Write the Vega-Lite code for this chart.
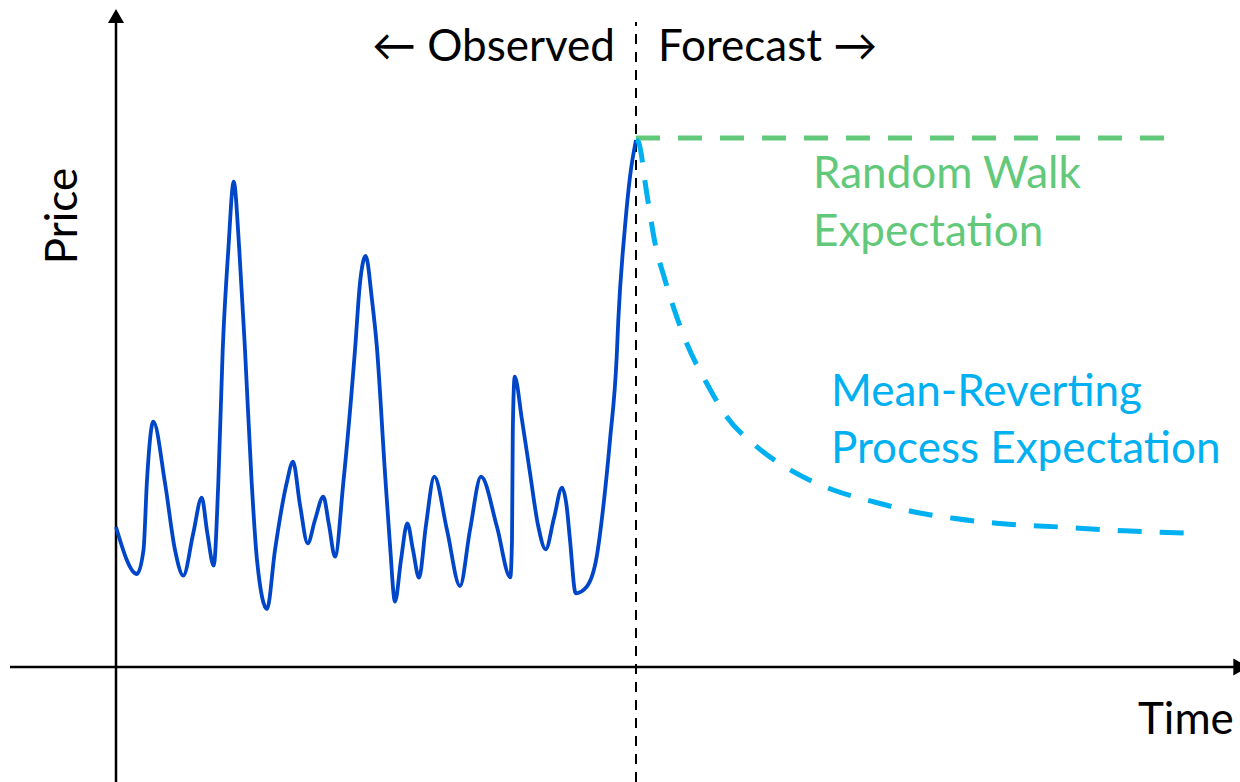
{
  "$schema": "https://vega.github.io/schema/vega-lite/v6.json",
  "width": 1240,
  "height": 782,
  "padding": 0,
  "autosize": {"type": "none"},
  "config": {"view": {"stroke": null}},
  "encoding": {
    "x": {"field": "t", "type": "quantitative", "scale": {"domain": [-116, 1124], "nice": false, "zero": false}, "axis": null},
    "y": {"field": "p", "type": "quantitative", "scale": {"domain": [-115, 667], "nice": false, "zero": false}, "axis": null}
  },
  "layer": [
    {
      "data": {"values": [{"t": 0, "p": -115, "p2": 647}]},
      "mark": {"type": "rule", "color": "black", "strokeWidth": 2.5},
      "encoding": {"y2": {"field": "p2"}}
    },
    {
      "data": {"values": [{"t": -106, "t2": 1119, "p": 0}]},
      "mark": {"type": "rule", "color": "black", "strokeWidth": 2.5},
      "encoding": {"x2": {"field": "t2"}}
    },
    {
      "data": {"values": [{"t": 520, "p": -115, "p2": 645}]},
      "mark": {"type": "rule", "color": "black", "strokeWidth": 2, "strokeDash": [10, 8]},
      "encoding": {"y2": {"field": "p2"}}
    },
    {
      "data": {"values": [{"t": 0, "p": 651}]},
      "mark": {"type": "point", "shape": "triangle-up", "size": 256, "filled": true, "color": "black", "opacity": 1}
    },
    {
      "data": {"values": [{"t": 1124.7, "p": 0}]},
      "mark": {"type": "point", "shape": "triangle-right", "size": 289, "filled": true, "color": "black", "opacity": 1}
    },
    {
      "data": {"values": [
        {"t": 0, "p": 140}, {"t": 21, "p": 93}, {"t": 27.5, "p": 117}, {"t": 31, "p": 187}, {"t": 37.3, "p": 245.3},
        {"t": 49, "p": 184}, {"t": 59, "p": 117}, {"t": 67.3, "p": 91.3}, {"t": 77.3, "p": 134}, {"t": 85.7, "p": 169.3},
        {"t": 91.3, "p": 134}, {"t": 97.7, "p": 101.3}, {"t": 102.3, "p": 184}, {"t": 106.7, "p": 317}, {"t": 112.3, "p": 417},
        {"t": 117.7, "p": 485.3}, {"t": 123.3, "p": 417}, {"t": 129, "p": 317}, {"t": 135.7, "p": 184}, {"t": 141, "p": 107},
        {"t": 151, "p": 58}, {"t": 159, "p": 117}, {"t": 170.7, "p": 184}, {"t": 177, "p": 205.3}, {"t": 184, "p": 162},
        {"t": 191.7, "p": 123.7}, {"t": 199, "p": 147}, {"t": 207.3, "p": 170.3}, {"t": 213, "p": 142}, {"t": 219, "p": 110.3},
        {"t": 227.3, "p": 184}, {"t": 239, "p": 317}, {"t": 244, "p": 384}, {"t": 249.7, "p": 411}, {"t": 256, "p": 367},
        {"t": 260.7, "p": 322}, {"t": 269, "p": 194}, {"t": 274, "p": 122}, {"t": 279, "p": 65.3}, {"t": 285, "p": 107},
        {"t": 291.3, "p": 143.7}, {"t": 297, "p": 117}, {"t": 303, "p": 89.3}, {"t": 310, "p": 142}, {"t": 318.3, "p": 190.3},
        {"t": 331, "p": 137}, {"t": 344, "p": 81}, {"t": 354, "p": 137}, {"t": 365, "p": 190.3}, {"t": 381, "p": 140},
        {"t": 394.3, "p": 89.7}, {"t": 396, "p": 127}, {"t": 396.8, "p": 237}, {"t": 398.7, "p": 290.3}, {"t": 406, "p": 247},
        {"t": 414, "p": 194}, {"t": 422, "p": 142}, {"t": 429.7, "p": 117.7}, {"t": 438, "p": 149}, {"t": 446, "p": 179.3},
        {"t": 450.7, "p": 160.3}, {"t": 454, "p": 127}, {"t": 459.7, "p": 73.7}, {"t": 470.7, "p": 80.3}, {"t": 480.7, "p": 110.3},
        {"t": 487.3, "p": 160.3}, {"t": 494, "p": 227}, {"t": 500.7, "p": 310.3}, {"t": 502.3, "p": 347}, {"t": 509, "p": 440.3},
        {"t": 514, "p": 490.3}, {"t": 520, "p": 527}
      ]},
      "mark": {"type": "line", "interpolate": "monotone", "color": "#0046C8", "strokeWidth": 3.8}
    },
    {
      "data": {"values": [{"t": 520, "p": 529}, {"t": 1049, "p": 529}]},
      "mark": {"type": "line", "color": "#62C97A", "strokeWidth": 5, "strokeDash": [24, 18]}
    },
    {
      "data": {"values": [
        {"t": 520, "p": 527}, {"t": 522.3, "p": 525.3}, {"t": 530.7, "p": 474}, {"t": 539, "p": 424}, {"t": 549, "p": 387},
        {"t": 557.3, "p": 360.3}, {"t": 570.7, "p": 323.7}, {"t": 590.7, "p": 283.7}, {"t": 610.7, "p": 250.3}, {"t": 640.7, "p": 220.3},
        {"t": 677.3, "p": 195.3}, {"t": 717.3, "p": 177}, {"t": 757.3, "p": 165.3}, {"t": 797.3, "p": 155.3}, {"t": 837.3, "p": 148.7},
        {"t": 880.7, "p": 143.7}, {"t": 944, "p": 140}, {"t": 1014, "p": 136}, {"t": 1071, "p": 134}
      ]},
      "mark": {"type": "line", "interpolate": "monotone", "color": "#00B0F0", "strokeWidth": 5, "strokeDash": [24, 18]}
    },
    {
      "data": {"values": [{"t": 499, "p": 606, "label": "← Observed"}]},
      "mark": {"type": "text", "align": "right", "baseline": "alphabetic", "font": "Lato", "fontSize": 44, "color": "black"},
      "encoding": {"text": {"field": "label"}}
    },
    {
      "data": {"values": [{"t": 542, "p": 606, "label": "Forecast →"}, {"t": 1022, "p": -67, "label": "Time"}]},
      "mark": {"type": "text", "align": "left", "baseline": "alphabetic", "font": "Lato", "fontSize": 44, "color": "black"},
      "encoding": {"text": {"field": "label"}}
    },
    {
      "data": {"values": [{"t": -39, "p": 451, "label": "Price"}]},
      "mark": {"type": "text", "align": "center", "baseline": "alphabetic", "angle": 270, "font": "Lato", "fontSize": 44, "color": "black"},
      "encoding": {"text": {"field": "label"}}
    },
    {
      "data": {"values": [{"t": 697, "p": 479, "label": "Random Walk"}, {"t": 697, "p": 421, "label": "Expectation"}]},
      "mark": {"type": "text", "align": "left", "baseline": "alphabetic", "font": "Lato", "fontSize": 44, "color": "#62C97A"},
      "encoding": {"text": {"field": "label"}}
    },
    {
      "data": {"values": [{"t": 715, "p": 261, "label": "Mean-Reverting"}, {"t": 715, "p": 204, "label": "Process Expectation"}]},
      "mark": {"type": "text", "align": "left", "baseline": "alphabetic", "font": "Lato", "fontSize": 44, "color": "#00B0F0"},
      "encoding": {"text": {"field": "label"}}
    }
  ]
}
